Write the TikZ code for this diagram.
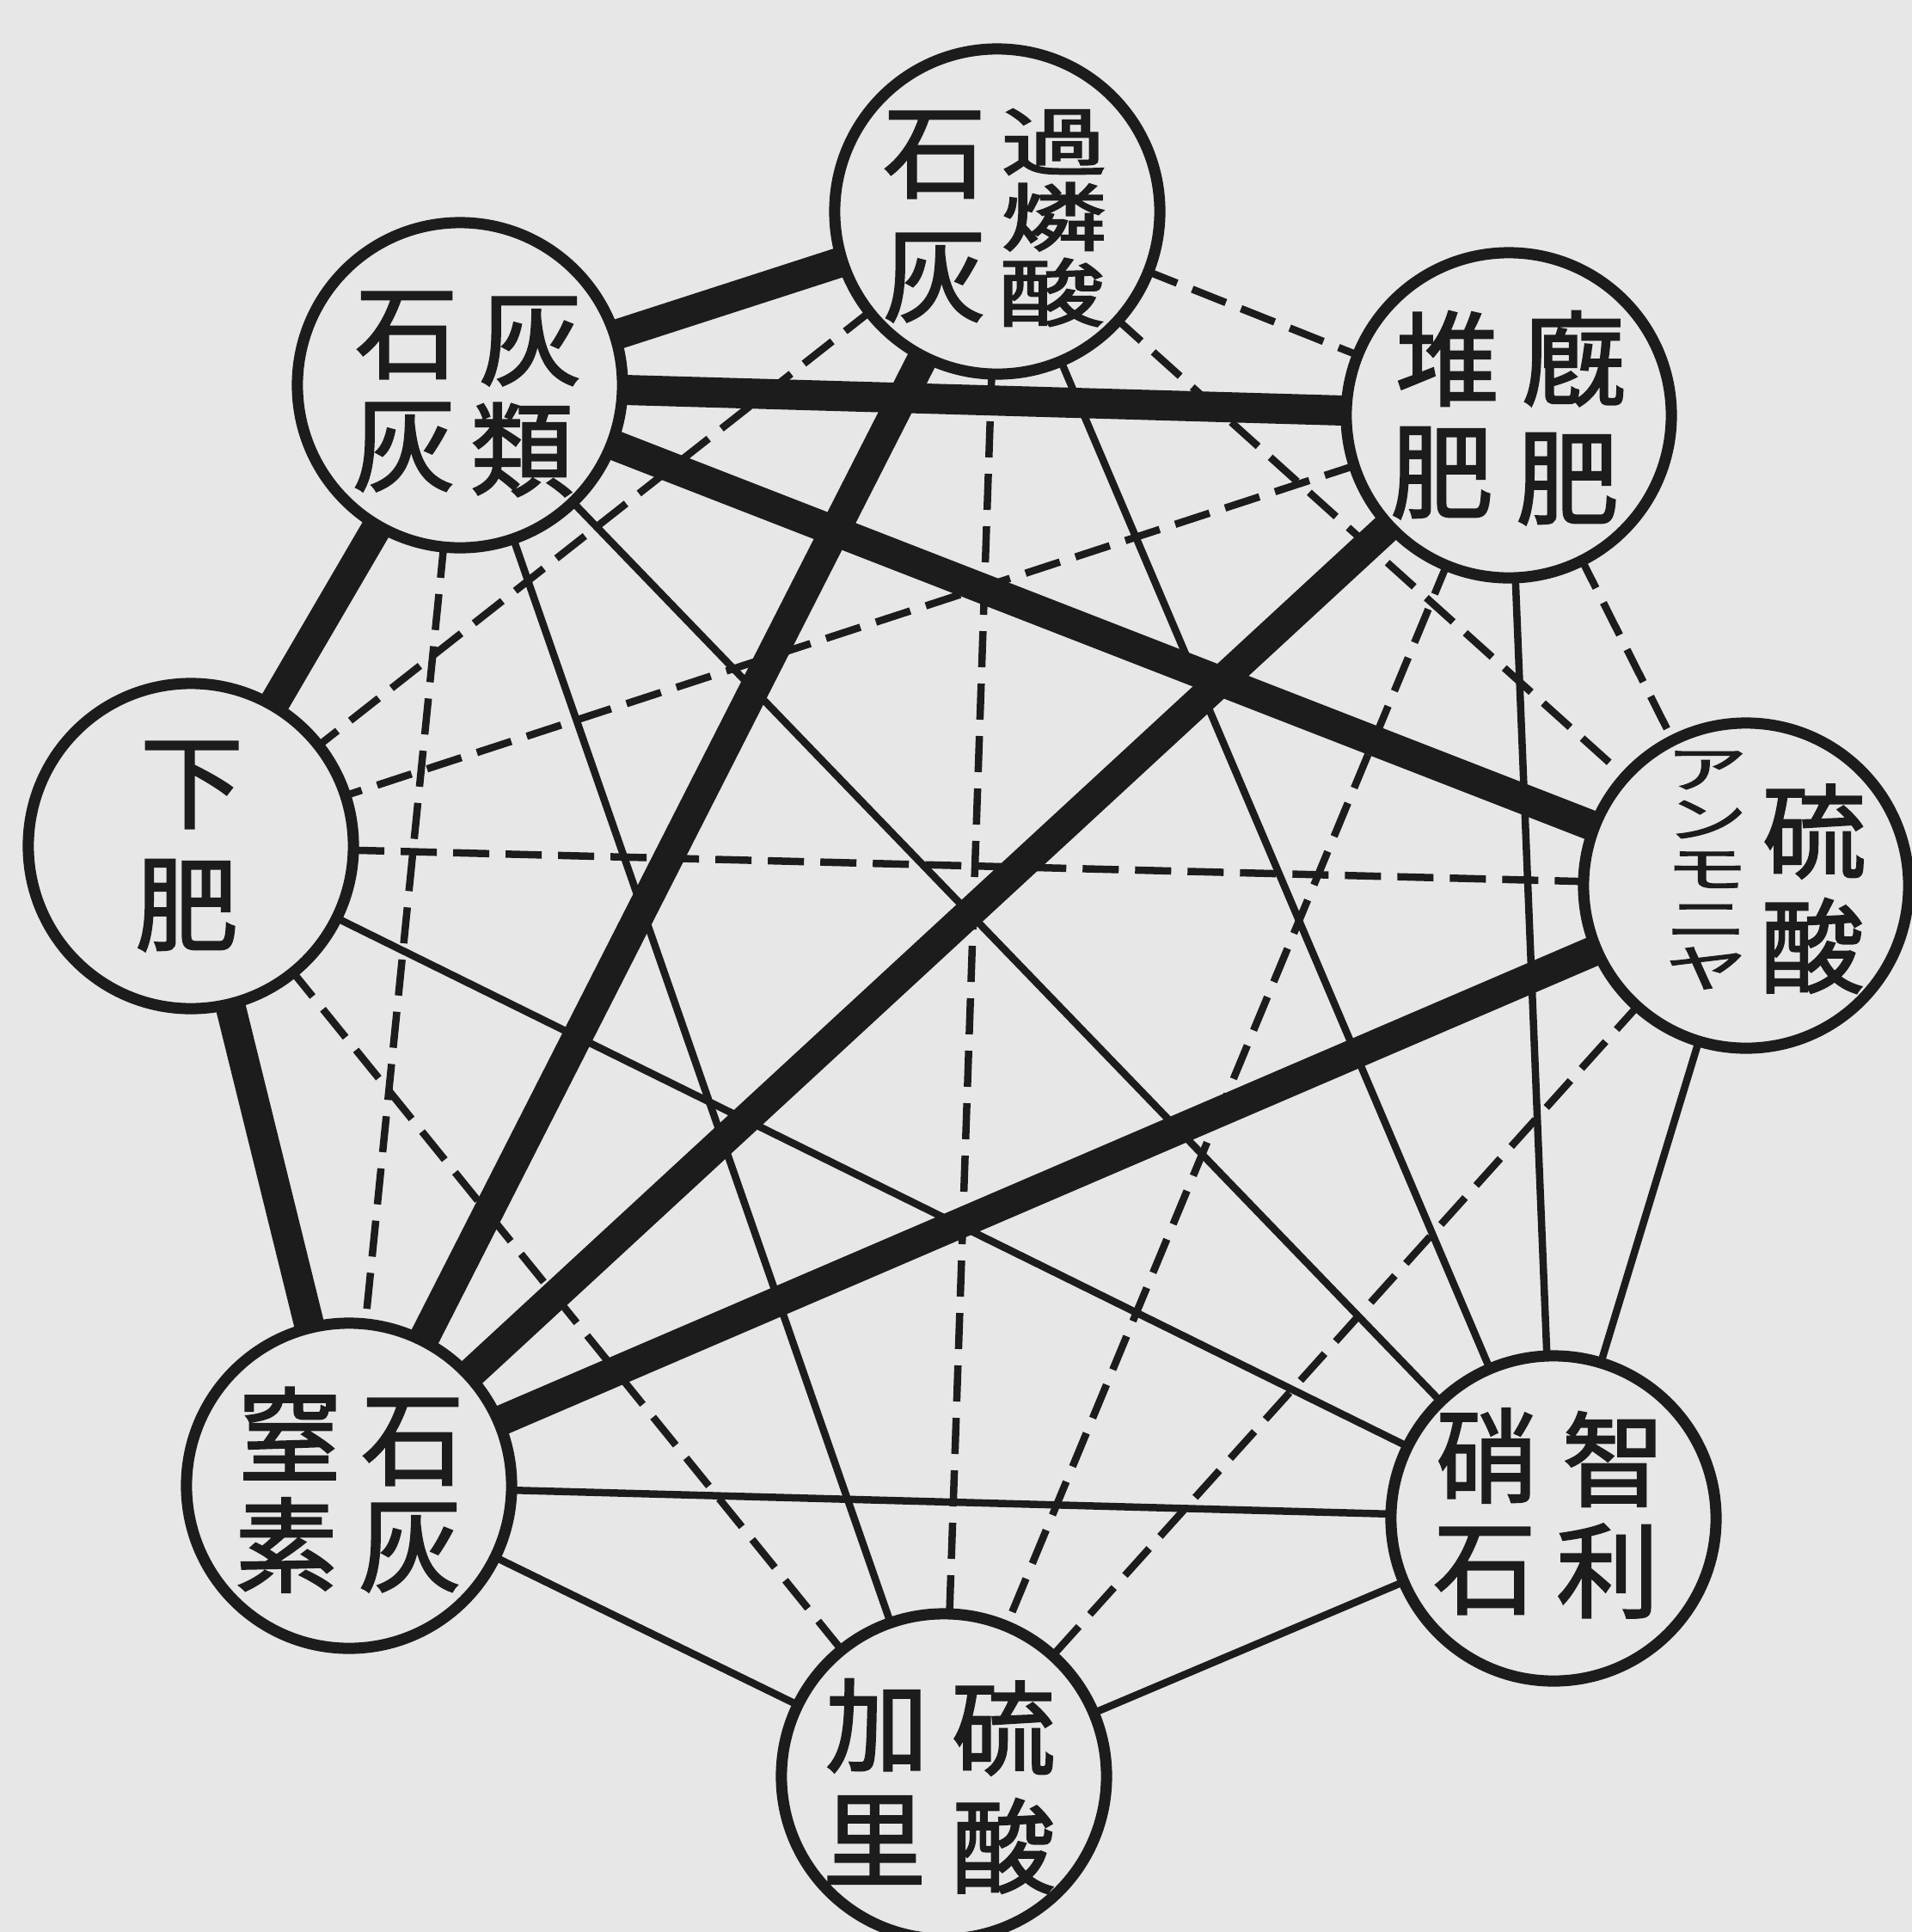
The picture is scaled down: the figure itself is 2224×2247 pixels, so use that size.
\documentclass[tikz,border=0pt]{standalone}
\usepackage{fontspec}
\usepackage{graphicx}
\newfontfamily\jfont[FakeBold=2]{Noto Sans CJK JP}
\definecolor{bgc}{HTML}{E7E7E7}
\definecolor{ink}{HTML}{1C1C1C}
\pgfdeclarelayer{back}
\pgfdeclarelayer{edges}
\pgfsetlayers{back,edges,main}
\newcommand\sqz[1]{\scalebox{1}[0.7]{#1}}
\newcommand\kanarow[1]{\hbox to 1em{\hss#1\hss}}
\tikzset{
  circ/.style={circle, draw=ink, line width=0.13cm, fill=bgc, minimum size=3.78cm, inner sep=0pt},
  heavy/.style={draw=ink, line width=0.35cm},
  thinline/.style={draw=ink, line width=0.085cm},
  dashline/.style={draw=ink, line width=0.085cm, dash pattern=on 0.42cm off 0.19cm},
  ch/.style={text=ink, inner sep=0pt, font=\jfont\fontsize{34pt}{34pt}\selectfont},
  chs/.style={text=ink, inner sep=0pt, font=\jfont\fontsize{35pt}{35pt}\selectfont},
  kana/.style={text=ink, inner sep=0pt, font=\jfont\fontsize{27pt}{27.05pt}\selectfont}
}
\begin{document}
\begin{tikzpicture}[x=0.01cm, y=-0.01cm]
\useasboundingbox (0,0) rectangle (2224,2247);
\clip (0,0) rectangle (2224,2247);
\begin{pgfonlayer}{back}
  \fill[bgc] (0,0) rectangle (2224,2247);
\end{pgfonlayer}

% circles
\node[circ] (A) at (1160,246) {};
\node[circ] (B) at (535,448) {};
\node[circ] (C) at (1755,483) {};
\node[circ] (D) at (222,984) {};
\node[circ] (E) at (2031,1030) {};
\node[circ] (F) at (406,1728) {};
\node[circ] (G) at (1807,1766) {};
\node[circ] (H) at (1098,2066) {};

% connectors
\begin{pgfonlayer}{edges}
  % heavy
  \draw[heavy] (A.center) -- (B.center);
  \draw[heavy] (B.center) -- (C.center);
  \draw[heavy] (B.center) -- (D.center);
  \draw[heavy] (B.center) -- (E.center);
  \draw[heavy] (A.center) -- (F.center);
  \draw[heavy] (C.center) -- (F.center);
  \draw[heavy] (E.center) -- (F.center);
  \draw[heavy] (D.center) -- (F.center);
  % thin solid
  \draw[thinline] (G.center) -- (A.center);
  \draw[thinline] (G.center) -- (B.center);
  \draw[thinline] (G.center) -- (C.center);
  \draw[thinline] (G.center) -- (D.center);
  \draw[thinline] (G.center) -- (E.center);
  \draw[thinline] (G.center) -- (F.center);
  \draw[thinline] (G.center) -- (H.center);
  \draw[thinline] (B.center) -- (H.center);
  \draw[thinline] (F.center) -- (H.center);
  % dashed
  \draw[dashline] (A.center) -- (C.center);
  \draw[dashline] (A.center) -- (D.center);
  \draw[dashline] (A.center) -- (E.center);
  \draw[dashline] (A.center) -- (H.center);
  \draw[dashline] (B.center) -- (F.center);
  \draw[dashline] (C.center) -- (D.center);
  \draw[dashline] (C.center) -- (E.center);
  \draw[dashline] (C.center) -- (H.center);
  \draw[dashline] (D.center) -- (E.center);
  \draw[dashline] (D.center) -- (H.center);
  \draw[dashline] (E.center) -- (H.center);
\end{pgfonlayer}

% labels: A  過燐酸 / 石灰
\node[ch]  (a1) at (1087,180) {石};
\node[ch]  (a2) at (1087,323) {灰};
\node[chs] (a3) at (1226,165) {\sqz{過}};
\node[chs] (a4) at (1226,252) {\sqz{燐}};
\node[chs] (a5) at (1223,340) {\sqz{酸}};
% B
\node[ch] (b1) at (473,390) {石};
\node[ch] (b2) at (470,520) {灰};
\node[ch] (b3) at (617,397) {灰};
\node[ch] (b4) at (607,523) {類};
% C
\node[ch] (c1) at (1683,417) {堆};
\node[ch] (c2) at (1677,550) {肥};
\node[ch] (c3) at (1830,417) {廐};
\node[ch] (c4) at (1823,557) {肥};
% D
\node[ch] (d1) at (223,913) {下};
\node[ch] (d2) at (217,1053) {肥};
% E
\node[kana] (e1) at (1985,1012) {\scalebox{1}[0.61]{\vbox{\lineskiplimit=-100pt\kanarow{ア}\kanarow{ン}\kanarow{モ}\kanarow{ニ}\kanarow{ヤ}}}};
\node[ch] (e6) at (2110,967) {硫};
\node[ch] (e7) at (2108,1100) {酸};
% F
\node[ch] (f1) at (337,1667) {窒};
\node[ch] (f2) at (333,1797) {素};
\node[ch] (f3) at (480,1677) {石};
\node[ch] (f4) at (477,1800) {灰};
% G
\node[ch] (g1) at (1730,1693) {硝};
\node[ch] (g2) at (1727,1827) {石};
\node[ch] (g3) at (1877,1697) {智};
\node[ch] (g4) at (1870,1827) {利};
% H
\node[ch] (h1) at (1020,2007) {加};
\node[ch] (h2) at (1017,2140) {里};
\node[ch] (h3) at (1167,2010) {硫};
\node[ch] (h4) at (1167,2147) {酸};
\end{tikzpicture}
\end{document}
